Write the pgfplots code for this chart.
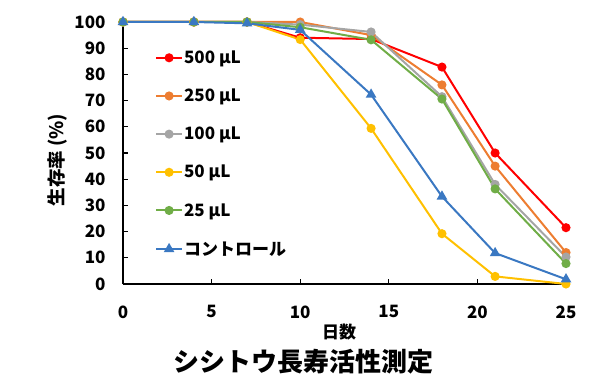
\documentclass[border=0pt]{standalone}
\usepackage{fontspec}
\setmainfont{Noto Sans CJK JP}
\usepackage{pgfplots}
\pgfplotsset{compat=1.18}
\definecolor{cA}{HTML}{FF0000}
\definecolor{cB}{HTML}{ED7D31}
\definecolor{cC}{HTML}{A5A5A5}
\definecolor{cD}{HTML}{FFC000}
\definecolor{cE}{HTML}{70AD47}
\definecolor{cF}{HTML}{3A78C2}
\begin{document}
\begin{tikzpicture}[x=1pt,y=1pt]
\path[use as bounding box] (-123,-107) rectangle (470,284);
\begin{axis}[
  at={(0,0)}, anchor=south west,
  scale only axis, width=443pt, height=262pt,
  xmin=0, xmax=25, ymin=0, ymax=100,
  axis lines*=left,
  axis line style={black, line width=1.4pt},
  xtick={0,5,...,25}, ytick={0,10,...,100},
  tick align=inside, major tick length=5pt,
  tick style={black, line width=1.2pt},
  /pgf/number format/assume math mode=true,
  ticklabel style={font=\bfseries\fontsize{17}{17}\selectfont},
  xticklabel style={yshift=-18pt},
  yticklabel style={xshift=-14pt},
  clip=false,
  xlabel={日数},
  xlabel style={at={(axis description cs:0.488,0)}, anchor=center, yshift=-48pt, font=\bfseries\fontsize{17}{17}\selectfont},
  ylabel={生存率 (\%)},
  ylabel style={at={(axis description cs:-0.147,0.473)}, anchor=center, font=\bfseries\fontsize{18.5}{18.5}\selectfont},
  title={シシトウ長寿活性測定},
  title style={at={(axis description cs:0.407,0)}, anchor=center, yshift=-84pt, font=\bfseries\fontsize{26}{26}\selectfont},
  legend style={at={(axis description cs:0.072,0.895)}, anchor=north west, draw=none, fill=none,
    font=\bfseries\fontsize{17}{17}\selectfont, row sep=22pt, inner sep=0pt,
    nodes={inner sep=1pt, anchor=west}},
  legend cell align=left,
  legend image code/.code={\draw[mark repeat=2,mark phase=2] plot coordinates {(0pt,0pt)(13pt,0pt)(26pt,0pt)};},
  every axis plot/.append style={line width=2pt, mark size=3.5pt},
]
\addplot[cA, mark=*] coordinates {(0,100)(4,100)(7,100)(10,94)(14,93.5)(18,82.8)(21,50)(25,21.5)};
\addlegendentry{500 µL}
\addplot[cB, mark=*] coordinates {(0,100)(4,100)(7,100)(10,100)(14,95)(18,76)(21,45)(25,12)};
\addlegendentry{250 µL}
\addplot[cC, mark=*] coordinates {(0,100)(4,100)(7,100)(10,99)(14,96.2)(18,71.5)(21,38)(25,10.3)};
\addlegendentry{100 µL}
\addplot[cD, mark=*] coordinates {(0,100)(4,100)(7,100)(10,93.3)(14,59.4)(18,19.2)(21,2.9)(25,0)};
\addlegendentry{50 µL}
\addplot[cE, mark=*] coordinates {(0,100)(4,100)(7,100)(10,98)(14,93.2)(18,70.6)(21,36.3)(25,7.8)};
\addlegendentry{25 µL}
\addplot[cF, mark=triangle*, mark size=4.2pt] coordinates {(0,100)(4,100)(7,99.5)(10,97)(14,72.3)(18,33.4)(21,11.8)(25,1.8)};
\addlegendentry{コントロール}
\end{axis}
\end{tikzpicture}
\end{document}
